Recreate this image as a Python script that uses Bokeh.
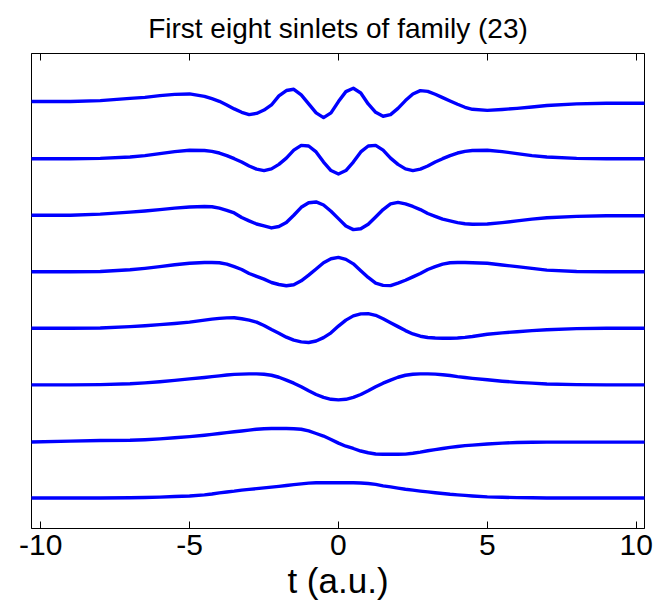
from bokeh.plotting import figure
from bokeh.models import Range1d, LinearAxis, FixedTicker
from bokeh.embed import file_html
from bokeh.resources import INLINE

# common time grid (a.u.)
t = [-10.4, -9, -8, -7, -6.5, -6, -5.5, -5,
     -4.5, -4.25, -4, -3.75, -3.5, -3.25, -3, -2.75, -2.5, -2.25, -2, -1.75,
     -1.5, -1.25, -1, -0.75, -0.5, -0.25, 0, 0.25, 0.5, 0.75, 1, 1.25, 1.5,
     1.75, 2, 2.25, 2.5, 2.75, 3, 3.25, 3.5, 3.75, 4, 4.25, 4.5,
     5, 5.5, 6, 6.5, 7, 8, 9, 10.4]

# sinlets, top (8th) to bottom (1st), values relative to their own baseline
s8 = [0.01, 0.01, 0.027, 0.067, 0.085, 0.115, 0.138, 0.145,
      0.103, 0.06, 0.014, -0.05, -0.12, -0.18, -0.22, -0.2, -0.14, -0.05, 0.11, 0.205,
      0.227, 0.127, -0.032, -0.19, -0.274, -0.19, 0.01, 0.186, 0.245, 0.162, -0.032, -0.18, -0.25,
      -0.22, -0.11, 0.027, 0.145, 0.204, 0.19, 0.139, 0.08, 0.02, -0.038, -0.091, -0.127,
      -0.145, -0.13, -0.11, -0.085, -0.06, -0.03, -0.02, -0.02]
s7 = [0.0, 0.0, 0.005, 0.03, 0.055, 0.09, 0.125, 0.148,
      0.145, 0.13, 0.1, 0.055, 0.0, -0.06, -0.13, -0.185, -0.21, -0.18, -0.1, 0.01,
      0.15, 0.235, 0.225, 0.12, -0.06, -0.21, -0.27, -0.21, -0.06, 0.12, 0.225, 0.235, 0.15,
      0.01, -0.1, -0.18, -0.21, -0.185, -0.13, -0.06, 0.0, 0.055, 0.1, 0.13, 0.145,
      0.148, 0.125, 0.09, 0.055, 0.03, 0.005, 0.0, 0.0]
s6 = [0.0, 0.0, 0.02, 0.055, 0.075, 0.1, 0.125, 0.145,
      0.155, 0.15, 0.125, 0.085, 0.04, -0.04, -0.1, -0.155, -0.19, -0.225, -0.2, -0.13,
      0.0, 0.14, 0.22, 0.235, 0.18, 0.07, -0.06, -0.19, -0.255, -0.24, -0.16, -0.03, 0.1,
      0.2, 0.227, 0.2, 0.155, 0.1, 0.03, -0.02, -0.07, -0.1, -0.13, -0.15, -0.16,
      -0.155, -0.13, -0.1, -0.07, -0.045, -0.02, -0.01, -0.01]
s5 = [0.0, 0.0, 0.005, 0.035, 0.06, 0.09, 0.125, 0.15,
      0.165, 0.165, 0.16, 0.135, 0.09, 0.04, -0.03, -0.08, -0.13, -0.19, -0.225, -0.248,
      -0.23, -0.16, -0.06, 0.05, 0.16, 0.23, 0.254, 0.22, 0.14, 0.02, -0.1, -0.2, -0.24,
      -0.245, -0.2, -0.15, -0.09, -0.03, 0.04, 0.09, 0.135, 0.16, 0.165, 0.165, 0.16,
      0.15, 0.12, 0.09, 0.06, 0.03, 0.005, 0.0, 0.0]
s4 = [0.0, 0.0, 0.005, 0.03, 0.045, 0.065, 0.085, 0.11,
      0.145, 0.162, 0.175, 0.185, 0.186, 0.17, 0.145, 0.11, 0.05, -0.02, -0.086, -0.156,
      -0.209, -0.239, -0.25, -0.225, -0.165, -0.08, 0.04, 0.145, 0.22, 0.255, 0.26, 0.23, 0.17,
      0.1, 0.03, -0.04, -0.1, -0.14, -0.162, -0.172, -0.175, -0.175, -0.17, -0.16, -0.145,
      -0.105, -0.08, -0.06, -0.04, -0.025, -0.005, 0.0, 0.0]
s3 = [0.0, 0.0, 0.005, 0.02, 0.035, 0.055, 0.08, 0.105,
      0.13, 0.145, 0.16, 0.175, 0.185, 0.19, 0.195, 0.195, 0.188, 0.17, 0.135, 0.085,
      0.03, -0.035, -0.105, -0.17, -0.22, -0.255, -0.265, -0.255, -0.22, -0.17, -0.105, -0.035, 0.03,
      0.085, 0.135, 0.17, 0.188, 0.195, 0.195, 0.19, 0.18, 0.165, 0.145, 0.13, 0.115,
      0.09, 0.065, 0.045, 0.03, 0.015, 0.005, 0.0, 0.0]
s2 = [-0.012, 0.005, 0.015, 0.02, 0.03, 0.045, 0.065, 0.085,
      0.11, 0.125, 0.14, 0.155, 0.17, 0.185, 0.2, 0.215, 0.225, 0.228, 0.228, 0.228,
      0.225, 0.215, 0.185, 0.14, 0.095, 0.035, -0.03, -0.085, -0.125, -0.17, -0.2, -0.222, -0.228,
      -0.228, -0.228, -0.225, -0.21, -0.19, -0.165, -0.145, -0.125, -0.105, -0.09, -0.075, -0.065,
      -0.045, -0.03, -0.02, -0.015, -0.012, -0.012, -0.012, -0.012]
s1 = [0.0, 0.0, 0.0, 0.003, 0.008, 0.015, 0.025, 0.035,
      0.055, 0.07, 0.09, 0.105, 0.12, 0.138, 0.152, 0.165, 0.178, 0.192, 0.205, 0.22,
      0.235, 0.25, 0.262, 0.268, 0.268, 0.268, 0.268, 0.268, 0.268, 0.265, 0.255, 0.24, 0.215,
      0.195, 0.175, 0.155, 0.138, 0.122, 0.108, 0.092, 0.078, 0.065, 0.055, 0.045, 0.035,
      0.02, 0.012, 0.006, 0.003, 0.0, 0.0, 0.0, 0.0]

series = [s1, s2, s3, s4, s5, s6, s7, s8]
offsets = [0, 1, 2, 3, 4, 5, 6, 7]
x_ticks = [-10, -5, 0, 5, 10]
x_tick_labels = ["-10", "-5", "0", "5", "10"]

FONT = "Liberation Sans"

p = figure(width=653, height=612,
           x_range=Range1d(-10.31, 10.28), y_range=Range1d(-0.54, 7.86),
           output_backend="svg", toolbar_location=None,
           min_border_left=31, min_border_right=9,
           min_border_top=53, min_border_bottom=84,
           title="First eight sinlets of family (23)")

p.title.text_font = FONT
p.title.text_font_size = "28px"
p.title.text_font_style = "normal"
p.title.align = "center"
p.title.vertical_align = "top"
p.title.text_color = "black"
p.title.standoff = 16

p.background_fill_color = "white"
p.border_fill_color = "white"
p.outline_line_color = "black"
p.outline_line_width = 1
p.xgrid.visible = False
p.ygrid.visible = False
p.yaxis.visible = False

xa = p.xaxis[0]
xa.ticker = FixedTicker(ticks=x_ticks)
xa.major_label_overrides = {tk: lb for tk, lb in zip(x_ticks, x_tick_labels)}
xa.major_tick_in = 7
xa.major_tick_out = 0
xa.minor_tick_line_color = None
xa.major_tick_line_color = "black"
xa.axis_line_color = "black"
xa.major_label_text_font = FONT
xa.major_label_text_font_size = "30px"
xa.major_label_text_color = "black"
xa.major_label_standoff = 6
xa.axis_label = "t (a.u.)"
xa.axis_label_text_font = FONT
xa.axis_label_text_font_size = "35px"
xa.axis_label_text_font_style = "normal"
xa.axis_label_text_color = "black"
xa.axis_label_standoff = 3

top = LinearAxis(ticker=FixedTicker(ticks=x_ticks))
top.major_tick_in = 7
top.major_tick_out = 0
top.minor_tick_line_color = None
top.major_label_text_color = None
top.major_label_text_font_size = "2px"
top.major_label_standoff = 0
top.axis_line_color = "black"
p.add_layout(top, "above")

for off, s in zip(offsets, series):
    y = [off + v for v in s]
    p.line(t, y, line_color="#0000ff", line_width=3.4, line_join="round")

open("out.html", "w").write(file_html(p, INLINE))
